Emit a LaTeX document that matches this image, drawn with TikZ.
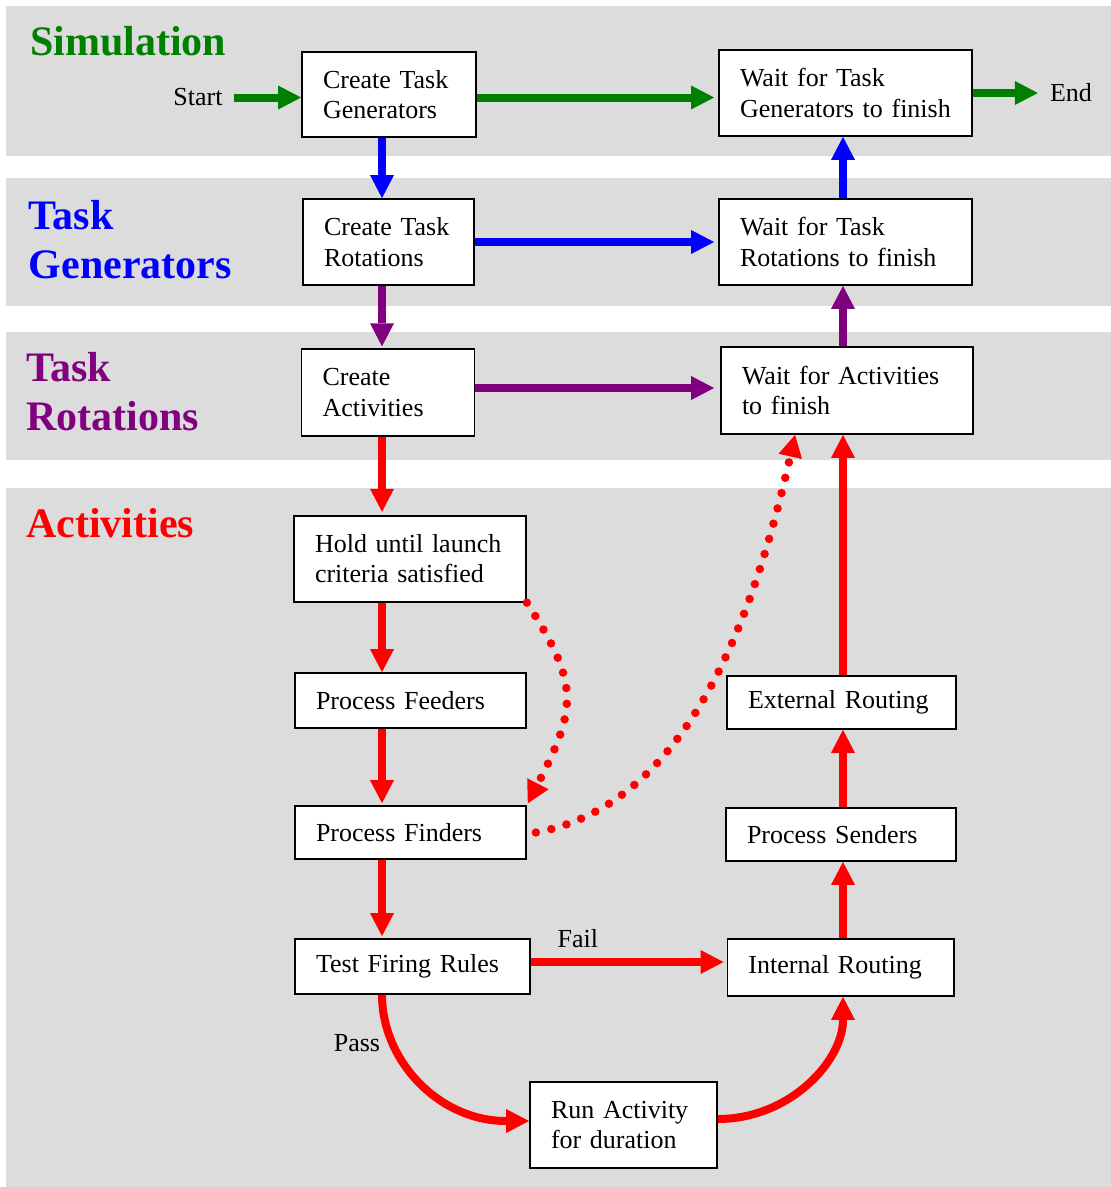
\documentclass[tikz,border=0pt]{standalone}
\usepackage{fontspec}
\setmainfont{Liberation Serif}
\usetikzlibrary{arrows.meta,calc}

\definecolor{bandgray}{RGB}{220,220,220}
\definecolor{simgreen}{RGB}{0,128,0}
\definecolor{genblue}{RGB}{0,0,255}
\definecolor{rotpurple}{RGB}{128,0,128}
\definecolor{actred}{RGB}{255,0,0}

\newcommand{\bodyfont}{\fontsize{26}{30.5}\selectfont}
\newcommand{\titlefont}{\fontsize{42}{48.5}\selectfont\bfseries}

\tikzset{
  box/.style={draw=black, fill=white, line width=1.8pt, inner xsep=21pt,
    inner ysep=0pt, align=left, font=\bodyfont},
  flow/.style={line width=8pt,
    -{Triangle[length=23pt,width=24pt,line width=0pt]}},
  dotflow/.style={line width=8.5pt, line cap=round,
    dash pattern=on 0pt off 15.8pt,
    -{Triangle[length=22pt,width=24pt,line width=0pt]}},
  lbl/.style={inner sep=0pt, font=\bodyfont, text=black},
  ttl/.style={inner sep=0pt, font=\titlefont, align=left, anchor=north west}
}

\begin{document}
\begin{tikzpicture}[x=1pt,y=-1pt]
\useasboundingbox (0,0) rectangle (1111,1187);

% swim-lane bands
\fill[bandgray] (6,6)   rectangle (1111,156);
\fill[bandgray] (6,178) rectangle (1111,305.5);
\fill[bandgray] (6,332) rectangle (1111,460);
\fill[bandgray] (6,488) rectangle (1111,1187);

% lane titles
\node[ttl, text=simgreen, anchor=base west] (tsim) at (30,55) {Simulation};
\node[ttl, text=genblue] (tgen) at (28.5,200.6) {Task\\Generators};
\node[ttl, text=rotpurple] (trot) at (26,352.6) {Task\\Rotations};
\node[ttl, text=actred, anchor=base west] (tact) at (26,537) {Activities};

% columns and rows used by the connectors
\coordinate (colL) at (382,0);
\coordinate (colR) at (843,0);
\coordinate (rowAct) at (0,388);
\coordinate (rowFail) at (0,962);

% process boxes
\node[box, text width=132pt, minimum height=85pt] (ctg) at (389,94.5) {Create Task\\Generators};
\node[box, text width=211pt, minimum height=86pt] (wtg) at (845.5,93) {Wait for Task\\Generators to finish};
\node[box, text width=129pt, minimum height=86pt] (ctr) at (388.5,242) {Create Task\\Rotations};
\node[box, text width=211pt, minimum height=86pt] (wtr) at (845.5,242) {Wait for Task\\Rotations to finish};
\node[box, text width=131pt, minimum height=87pt] (ca) at (388,392.7) {Create\\Activities};
\node[box, text width=210pt, minimum height=87pt] (waf) at (847,390.5) {Wait for Activities\\to finish};
\node[box, text width=190pt, minimum height=86pt] (hold) at (410,558.7) {Hold until launch\\criteria satisfied};
\node[box, text width=189pt, minimum height=55pt] (pf) at (410.5,700.5) {Process Feeders};
\node[box, text width=189pt, minimum height=53pt] (pfi) at (410.5,832.5) {Process Finders};
\node[box, text width=193pt, minimum height=55pt] (tfr) at (412.5,966.5) {Test Firing Rules};
\node[box, text width=184.5pt, minimum height=57pt] (ir) at (840.7,967.5) {Internal Routing};
\node[box, text width=188pt, minimum height=53pt] (ps) at (841,834.5) {Process Senders};
\node[box, text width=187pt, minimum height=53pt] (er) at (841.5,702.5) {External Routing};
\node[box, text width=145pt, minimum height=86pt] (ra) at (623.5,1125) {Run Activity\\for duration};

% start / end labels
\node[lbl] (start) at (198,97.5) {Start};
\node[lbl] (end) at (1071,93) {End};

% simulation level
\draw[flow, simgreen] ([xshift=11pt]start.east) -- (start.east -| ctg.west);
\draw[flow, simgreen, shorten >=4pt] (ctg.east |- start.east) -- (wtg.west |- start.east);
\draw[flow, simgreen] (wtg.east |- end) -- ([xshift=-12pt]end.west);

% task generator level
\draw[flow, genblue] (ctg.south -| colL) -- (ctr.north -| colL);
\draw[flow, genblue, shorten >=4pt] (ctr.east) -- (wtr.west);
\draw[flow, genblue] (wtr.north -| colR) -- (wtg.south -| colR);

% task rotation level
\draw[flow, rotpurple, shorten >=2pt] (ctr.south -| colL) -- (ca.north -| colL);
\draw[flow, rotpurple, shorten >=6pt] (ca.east |- rowAct) -- (waf.west |- rowAct);
\draw[flow, rotpurple] (waf.north -| colR) -- (wtr.south -| colR);

% activity level
\draw[flow, actred, shorten >=3pt] (ca.south -| colL) -- (hold.north -| colL);
\draw[flow, actred] (hold.south -| colL) -- (pf.north -| colL);
\draw[flow, actred, shorten >=2pt] (pf.south -| colL) -- (pfi.north -| colL);
\draw[flow, actred, shorten >=2pt] (pfi.south -| colL) -- (tfr.north -| colL);
\draw[flow, actred, shorten >=3pt] (tfr.east |- rowFail)
  -- node[lbl, pos=0.24, above=10pt] (fail) {Fail} (ir.west |- rowFail);
\draw[flow, actred] (tfr.south -| colL)
  .. controls ($(tfr.south -| colL)+(0,66)$) and ($(ra.west)+(-90,-4)$)
  .. ($(ra.west)+(0,-4)$);
\node[lbl] (pass) at (357,1043) {Pass};
\draw[flow, actred] ($(ra.east)+(0,-6)$)
  .. controls ($(ra.east)+(72,-6)$) and ($(ir.south -| colR)+(0,64)$)
  .. (ir.south -| colR);
\draw[flow, actred] (ir.north -| colR) -- (ps.south -| colR);
\draw[flow, actred] (ps.north -| colR) -- (er.south -| colR);
\draw[flow, actred] (er.north -| colR) -- (waf.south -| colR);

% dotted shortcuts
\draw[dotflow, actred, shorten >=2pt] (hold.south east)
  .. controls ($(hold.south east)+(52,81)$) and ($(pfi.north east)+(51,-99)$)
  .. (pfi.north east);
\draw[dotflow, actred] ($(pfi.east)+(9,0)$)
  .. controls ($(pfi.east)+(156,-27)$) and ($(waf.south west)+(31,195)$)
  .. ($(waf.south west)+(75,0)$);
\end{tikzpicture}
\end{document}
